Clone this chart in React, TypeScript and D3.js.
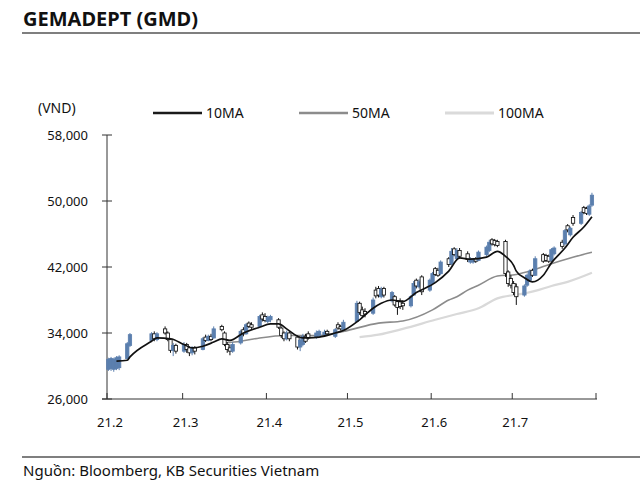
import React from "react";
import * as d3 from "d3";

// [day, open, high, low, close] in thousand VND
const febBars = [
  [1, 29.6, 31.0, 29.4, 30.8], [2, 29.7, 31.1, 29.4, 30.9], [3, 29.6, 31.0, 29.3, 30.8],
  [4, 29.7, 31.2, 29.5, 31.0], [5, 29.8, 31.3, 29.5, 31.1], [8, 30.9, 32.9, 30.8, 32.7],
  [9, 32.5, 34.0, 32.3, 33.8], [17, 33.1, 34.1, 32.9, 33.9], [18, 33.9, 34.2, 33.0, 33.3],
  [19, 33.2, 34.1, 33.0, 33.9], [22, 34.5, 34.8, 33.8, 34.0], [23, 34.0, 34.2, 33.0, 33.2],
  [24, 33.2, 33.4, 31.6, 31.9], [25, 31.9, 32.8, 31.2, 32.5], [26, 32.5, 32.7, 31.5, 31.8],
];
const marBars = [
  [1, 31.8, 32.9, 31.6, 32.6], [2, 32.6, 32.8, 31.6, 32.0], [3, 32.2, 32.4, 31.2, 31.6],
  [4, 31.6, 32.4, 31.3, 32.2], [5, 32.2, 32.4, 31.4, 31.8], [8, 32.0, 33.5, 31.9, 33.3],
  [9, 33.5, 33.8, 32.9, 33.1], [10, 33.1, 33.8, 33.0, 33.6], [11, 33.6, 33.9, 33.0, 33.2],
  [12, 33.4, 34.8, 33.3, 34.5], [15, 34.8, 35.0, 34.2, 34.4], [16, 34.0, 34.2, 32.4, 32.6],
  [17, 32.6, 32.9, 31.6, 32.0], [18, 32.2, 32.6, 31.3, 31.8], [19, 31.8, 32.9, 31.6, 32.6],
  [22, 32.8, 34.4, 32.6, 34.2], [23, 34.4, 34.7, 33.6, 33.9], [24, 33.9, 35.2, 33.8, 35.0],
  [25, 35.2, 35.4, 34.6, 34.8], [26, 35.0, 35.3, 34.5, 34.7], [29, 34.8, 36.2, 34.7, 36.0],
  [30, 36.2, 36.5, 35.4, 35.7], [31, 36.0, 36.4, 35.3, 35.5],
];
const aprBars = [
  [1, 35.4, 36.1, 35.2, 35.9], [2, 35.6, 36.2, 35.3, 36.0], [5, 35.6, 35.8, 34.5, 34.7],
  [6, 34.6, 34.8, 33.4, 33.7], [7, 34.0, 34.2, 33.0, 33.3], [8, 33.3, 34.3, 33.1, 34.0],
  [9, 34.0, 34.2, 33.0, 33.3], [12, 33.5, 33.7, 32.0, 32.3], [13, 32.3, 33.4, 31.8, 33.1],
  [14, 32.6, 33.9, 32.4, 33.6], [15, 33.6, 33.9, 32.8, 33.0], [16, 33.9, 34.2, 33.2, 33.4],
  [19, 33.5, 34.3, 33.3, 34.0], [20, 33.7, 34.4, 33.6, 34.2], [22, 33.8, 34.4, 33.7, 34.1],
  [23, 34.2, 34.4, 33.7, 33.9], [26, 33.6, 34.6, 33.4, 34.4], [27, 35.0, 35.3, 34.4, 34.6],
  [28, 34.8, 35.0, 34.3, 34.5], [29, 34.4, 35.6, 34.3, 35.3],
];
const mayBars = [
  [4, 35.4, 37.9, 35.3, 37.6], [5, 37.6, 37.8, 36.2, 36.5], [6, 36.8, 37.2, 35.8, 36.1],
  [7, 36.6, 37.0, 35.9, 36.3], [10, 36.4, 38.3, 36.2, 38.0], [11, 39.2, 39.6, 38.2, 38.5],
  [12, 39.4, 39.7, 38.3, 38.6], [13, 38.4, 39.6, 38.2, 39.3], [14, 39.4, 39.6, 38.3, 38.6],
  [17, 37.9, 39.1, 37.7, 38.9], [18, 38.4, 38.6, 37.2, 37.4], [19, 37.8, 38.0, 36.2, 37.1],
  [20, 37.9, 38.2, 36.9, 37.2], [21, 37.6, 38.0, 36.8, 37.3], [24, 37.3, 38.6, 37.1, 38.4],
  [25, 38.6, 40.3, 38.5, 40.0], [26, 40.4, 40.6, 39.4, 39.7], [27, 39.6, 40.5, 39.4, 40.2],
  [28, 40.8, 41.0, 38.6, 39.0], [31, 39.2, 40.6, 39.0, 40.4],
];
const junBars = [
  [1, 40.0, 41.4, 39.8, 41.2], [2, 41.8, 42.0, 40.9, 41.1], [3, 41.6, 41.9, 40.8, 41.0],
  [4, 41.2, 42.8, 41.0, 42.6], [7, 43.0, 43.2, 42.0, 42.3], [8, 42.4, 44.3, 42.2, 43.9],
  [9, 44.2, 44.4, 43.3, 43.5], [10, 43.0, 44.3, 42.8, 44.0], [11, 44.0, 44.3, 43.0, 43.3],
  [14, 43.6, 43.9, 42.6, 42.9], [15, 42.6, 43.2, 42.4, 43.0], [16, 42.6, 43.1, 42.4, 42.9],
  [17, 43.0, 43.2, 42.5, 42.7], [18, 42.8, 44.0, 42.7, 43.8], [21, 43.5, 44.6, 43.3, 44.4],
  [22, 44.0, 45.3, 43.8, 45.0], [23, 45.3, 45.5, 44.6, 44.8], [24, 45.2, 45.4, 44.5, 44.7],
  [25, 45.1, 45.3, 44.4, 44.6], [28, 45.1, 45.3, 40.8, 41.2], [29, 41.4, 41.6, 39.6, 40.0],
  [30, 40.6, 41.0, 39.4, 39.8],
];
const julBars = [
  [1, 40.0, 40.3, 38.6, 38.9], [2, 39.6, 40.0, 37.4, 38.4], [5, 38.6, 39.9, 38.4, 39.7],
  [6, 39.8, 41.2, 39.6, 41.0], [7, 40.4, 41.7, 40.2, 41.5], [8, 41.6, 41.8, 40.8, 41.0],
  [9, 41.0, 43.3, 40.9, 43.0], [12, 43.5, 43.7, 42.5, 42.7], [13, 43.4, 43.6, 42.6, 42.8],
  [14, 43.3, 43.5, 42.5, 42.7], [15, 42.8, 44.3, 42.6, 44.1], [16, 43.6, 44.5, 43.4, 44.3],
  [19, 45.0, 45.3, 44.2, 44.5], [20, 44.8, 46.6, 44.6, 46.4], [21, 47.0, 47.2, 46.2, 46.5],
  [22, 45.9, 46.9, 45.7, 46.7], [23, 48.0, 48.3, 47.0, 47.3], [26, 47.3, 48.8, 47.1, 48.6],
  [27, 49.2, 49.4, 48.4, 48.6], [28, 49.1, 49.3, 48.3, 48.5], [29, 48.4, 49.6, 48.2, 49.4],
  [30, 49.5, 51.0, 49.3, 50.7],
];

const ma10 = [
  ["2021-02-04", 30.6], ["2021-02-08", 30.7], ["2021-02-09", 31.1], ["2021-02-17", 33.0],
  ["2021-02-19", 33.4], ["2021-02-24", 33.3], ["2021-03-01", 32.6], ["2021-03-04", 32.2],
  ["2021-03-08", 32.4], ["2021-03-12", 32.9], ["2021-03-15", 33.3], ["2021-03-18", 33.1],
  ["2021-03-23", 34.0], ["2021-03-29", 34.7], ["2021-04-02", 35.1], ["2021-04-05", 35.1],
  ["2021-04-08", 34.5], ["2021-04-12", 33.6], ["2021-04-14", 33.4], ["2021-04-16", 33.4],
  ["2021-04-20", 33.5], ["2021-04-26", 34.0], ["2021-04-29", 34.3], ["2021-05-05", 35.6],
  ["2021-05-10", 37.0], ["2021-05-13", 37.6], ["2021-05-17", 38.0], ["2021-05-21", 37.8],
  ["2021-05-26", 38.9], ["2021-06-02", 40.1], ["2021-06-07", 41.5], ["2021-06-11", 43.1],
  ["2021-06-15", 42.95], ["2021-06-21", 43.2], ["2021-06-25", 43.9], ["2021-06-28", 43.3],
  ["2021-07-01", 42.2], ["2021-07-02", 41.5], ["2021-07-05", 40.7], ["2021-07-08", 40.2],
  ["2021-07-12", 41.0], ["2021-07-15", 42.5], ["2021-07-20", 44.3], ["2021-07-23", 45.6],
  ["2021-07-27", 46.85], ["2021-07-30", 48.1],
];
const ma50 = [
  ["2021-03-16", 32.8], ["2021-03-22", 33.0], ["2021-03-29", 33.4], ["2021-04-08", 33.7],
  ["2021-04-20", 33.7], ["2021-04-29", 34.2], ["2021-05-12", 35.2], ["2021-05-21", 35.45],
  ["2021-06-01", 36.8], ["2021-06-07", 38.0], ["2021-06-10", 38.4], ["2021-06-14", 39.2],
  ["2021-06-18", 39.8], ["2021-06-25", 40.9], ["2021-07-02", 41.1], ["2021-07-08", 41.6],
  ["2021-07-15", 42.4], ["2021-07-22", 43.1], ["2021-07-30", 43.8],
];
const ma100 = [
  ["2021-05-05", 33.5], ["2021-05-12", 33.8], ["2021-05-21", 34.5], ["2021-06-02", 35.6],
  ["2021-06-10", 36.3], ["2021-06-18", 37.0], ["2021-06-25", 38.2], ["2021-07-05", 38.8],
  ["2021-07-09", 39.1], ["2021-07-15", 39.7], ["2021-07-21", 40.2], ["2021-07-30", 41.3],
];

const yTicks = [26, 34, 42, 50, 58];
const xTickLabels = ["21.2", "21.3", "21.4", "21.5", "21.6", "21.7"];
const legendItems = [
  { label: "10MA", color: "#1a1a1a", width: 2.5 },
  { label: "50MA", color: "#8c8c8c", width: 2.5 },
  { label: "100MA", color: "#dadada", width: 2.8 },
];

const FONT = "'Noto Sans', sans-serif";
const UP = "#5b7fae";

export default function App() {
  const x = d3.scaleTime().domain([new Date(2021, 1, 1), new Date(2021, 7, 1)]).range([107, 596]);
  const y = d3.scaleLinear().domain([26, 58]).range([399, 135]);

  const months = [febBars, marBars, aprBars, mayBars, junBars, julBars];
  const bars = months.flatMap((arr, mi) =>
    arr.map(([d, o, h, l, c]) => ({ date: new Date(2021, 1 + mi, d, 12), o, h, l, c }))
  );

  const parse = d3.timeParse("%Y-%m-%d");
  const line = d3
    .line<any>()
    .x((d) => x(d3.timeHour.offset(parse(d[0])!, 12)))
    .y((d) => y(d[1]))
    .curve(d3.curveMonotoneX);

  const monthTicks = d3.timeMonth.range(new Date(2021, 1, 1), new Date(2021, 7, 2));
  const fmt = d3.format(",");
  const bw = 3.3;
  const legendX = [153, 299, 445];

  return (
    <svg width={640} height={485} style={{ position: "absolute", left: 0, top: 0, background: "#fff" }} fontFamily={FONT}>
      <rect width={640} height={485} fill="#fff" />
      <text x={23} y={26} fontSize={20} fontWeight={700} fill="#111">GEMADEPT (GMD)</text>
      <line x1={22} x2={640} y1={33} y2={33} stroke="#555" strokeWidth={1.6} />

      <text x={38} y={113} fontSize={14} fill="#111">(VND)</text>
      {legendItems.map((it, i) => {
        const lx = legendX[i];
        return (
          <g key={it.label}>
            <line x1={lx} x2={lx + 49} y1={113} y2={113} stroke={it.color} strokeWidth={it.width} />
            <text x={lx + 53} y={118} fontSize={14} fill="#111">{it.label}</text>
          </g>
        );
      })}

      {/* axes */}
      <line x1={107} x2={107} y1={y(58)} y2={y(26)} stroke="#333" strokeWidth={1} />
      {yTicks.map((t) => (
        <g key={t}>
          <line x1={102} x2={112} y1={y(t)} y2={y(t)} stroke="#333" strokeWidth={1} />
          <text x={88} y={y(t)} dy="0.35em" fontSize={13} textAnchor="end" fill="#111">
            {fmt(t * 1000)}
          </text>
        </g>
      ))}
      <line x1={102} x2={597} y1={399} y2={399} stroke="#333" strokeWidth={1} />
      {monthTicks.map((m, i) => (
        <g key={i}>
          <line x1={x(m)} x2={x(m)} y1={399} y2={393} stroke="#333" strokeWidth={1} />
          {i < xTickLabels.length && (
            <text x={x(m) + 3} y={427} fontSize={13} textAnchor="middle" fill="#111">
              {xTickLabels[i]}
            </text>
          )}
        </g>
      ))}

      {/* moving averages */}
      <path d={line(ma100) || ""} fill="none" stroke="#d9d9d9" strokeWidth={2.2} />
      <path d={line(ma50) || ""} fill="none" stroke="#8c8c8c" strokeWidth={1.6} />

      {/* candles */}
      {bars.map((b, i) => {
        const cx = x(b.date);
        const up = b.c >= b.o;
        const top = y(Math.max(b.o, b.c));
        const bot = y(Math.min(b.o, b.c));
        return (
          <g key={i}>
            <line x1={cx} x2={cx} y1={y(b.h)} y2={y(b.l)} stroke={up ? UP : "#111"} strokeWidth={1} />
            <rect
              x={cx - bw / 2}
              y={top}
              width={bw}
              height={Math.max(bot - top, 0.8)}
              fill={up ? UP : "#fff"}
              stroke={up ? UP : "#111"}
              strokeWidth={0.85}
            />
          </g>
        );
      })}

      <path d={line(ma10) || ""} fill="none" stroke="#111" strokeWidth={1.7} />

      <line x1={22} x2={640} y1={457} y2={457} stroke="#555" strokeWidth={1.4} />
      <text x={23} y={476} fontSize={15} fill="#111">Nguồn: Bloomberg, KB Securities Vietnam</text>
    </svg>
  );
}
